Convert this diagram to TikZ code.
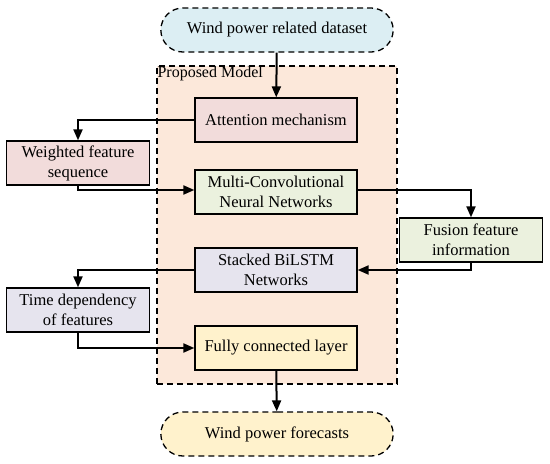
\documentclass[tikz,border=0pt]{standalone}
\usepackage{fontspec}
\setmainfont{Liberation Serif}
\usetikzlibrary{arrows.meta,shapes.misc}
\definecolor{cblue}{HTML}{DCEEF3}
\definecolor{corange}{HTML}{FCE8DA}
\definecolor{cpink}{HTML}{F2DCDB}
\definecolor{cgreen}{HTML}{EBF1DE}
\definecolor{cviolet}{HTML}{E6E4EE}
\definecolor{cyellow}{HTML}{FFF2CC}
\tikzset{
  box/.style={draw, line width=1.3pt, minimum width=162pt, minimum height=44pt, align=center, inner sep=2pt, font=\fontsize{16.5}{20}\selectfont},
  sidebox/.style={box, minimum width=143pt},
  term/.style={draw, dashed, dash pattern=on 6pt off 4pt, line width=1.3pt, rounded rectangle, minimum width=239pt, minimum height=44pt, font=\fontsize{16.5}{20}\selectfont},
  conn/.style={line width=2pt, -{Triangle[length=11pt,width=9pt]}},
}
\begin{document}
\begin{tikzpicture}[x=1pt,y=-1pt]
\useasboundingbox (0,0) rectangle (550,464);
\node[draw, dashed, dash pattern=on 6pt off 4pt, line width=1.3pt, fill=corange, minimum width=240pt, minimum height=318pt, inner sep=0pt] (pm) at (277,225) {};
\node[anchor=north west, inner sep=1pt, font=\fontsize{16}{18}\selectfont] (pml) at (pm.north west) {Proposed Model};
\node[term, fill=cblue] (in) at (277,30) {Wind power related dataset};
\node[box, fill=cpink] (att) at (276,120) {Attention mechanism};
\node[sidebox, fill=cpink] (wfs) at (78,163) {Weighted feature\\sequence};
\node[box, fill=cgreen] (mcn) at (276,192) {Multi-Convolutional\\Neural Networks};
\node[sidebox, fill=cgreen] (ffi) at (471,240) {Fusion feature\\information};
\node[box, fill=cviolet] (bil) at (276,270) {Stacked BiLSTM\\Networks};
\node[sidebox, fill=cviolet] (tdf) at (78,310) {Time dependency\\of features};
\node[box, fill=cyellow] (fcl) at (276,348) {Fully connected layer};
\node[term, fill=cyellow] (out) at (277,434) {Wind power forecasts};
\draw[conn] (in) -- (att);
\draw[conn] (att.west) -| (wfs.north);
\draw[conn] (wfs.south) |- ([yshift=2pt]mcn.west);
\draw[conn] ([yshift=2pt]mcn.east) -| (ffi.north);
\draw[conn] (ffi.south) |- (bil.east);
\draw[conn] (bil.west) -| (tdf.north);
\draw[conn] (tdf.south) |- (fcl.west);
\draw[conn] (fcl) -- (out);
\end{tikzpicture}
\end{document}
